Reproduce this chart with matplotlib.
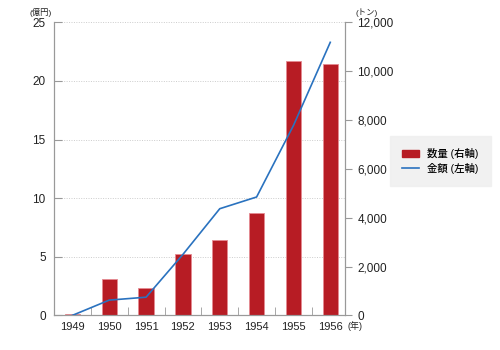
import matplotlib
matplotlib.use("Agg")
import matplotlib.pyplot as plt
from matplotlib.patches import Patch
from matplotlib.lines import Line2D

plt.rcParams['font.family'] = ['Liberation Sans', 'Noto Sans CJK JP', 'DejaVu Sans']

# データ
years = ['1949', '1950', '1951', '1952', '1953', '1954', '1955', '1956']
volume_t = [50, 1500, 1100, 2500, 3100, 4200, 10400, 10300]      # 数量 (トン, 右軸)
amount_oku = [0.0, 1.3, 1.55, 5.2, 9.1, 10.1, 16.2, 23.3]      # 金額 (億円, 左軸)

grey = '#999999'
red = '#b71c24'
blue = '#2a72bf'
txt = '#222222'

fig = plt.figure(figsize=(5, 3.5), dpi=100)
ax = fig.add_axes([0.108, 0.099, 0.582, 0.837])
ax2 = ax.twinx()

x = list(range(len(years)))

# 棒グラフ (右軸)
ax2.bar(x, volume_t, width=0.42, color=red, edgecolor='#e58a92', linewidth=0.6, zorder=2)
ax2.set_ylim(0, 12000)
ax2.set_yticks(range(0, 12001, 2000))
ax2.set_yticklabels([f'{v:,}' for v in range(0, 12001, 2000)])

# 折れ線 (左軸)
ax.plot(x, amount_oku, color=blue, linewidth=1.2, zorder=5)
ax.set_ylim(0, 25)
ax.set_yticks(range(0, 26, 5))
ax.set_xlim(-0.5, len(years) - 0.6)
ax.set_xticks(x)
ax.set_xticklabels(years)
ax.set_xticks([i + 0.5 for i in x[:-1]], minor=True)

# 線をバーの前に
ax.set_zorder(ax2.get_zorder() + 1)
ax.patch.set_visible(False)

for g in range(5, 26, 5):
    ax2.axhline(g * 12000 / 25, color='#cccccc', linestyle=(0, (1, 1.5)), linewidth=0.7, zorder=0)

for a in (ax, ax2):
    for s in a.spines.values():
        s.set_color(grey)
    a.spines['top'].set_visible(False)

ax.tick_params(axis='y', direction='in', length=6, color=grey, labelsize=8.5, pad=6, labelcolor=txt)
ax.tick_params(axis='x', which='major', length=0, labelsize=8, pad=5, labelcolor=txt)
ax.tick_params(axis='x', which='minor', direction='in', length=6, color=grey)
ax2.tick_params(axis='y', direction='out', length=5, color=grey, labelsize=8.5, pad=4, labelcolor=txt)

fig.text(0.058, 0.965, '(億円)', fontsize=6, ha='left', va='center', color=txt)
fig.text(0.71, 0.965, '(トン)', fontsize=6, ha='left', va='center', color=txt)
fig.text(0.696, 0.068, '(年)', fontsize=6.5, ha='left', va='center', color=txt)

handles = [Patch(facecolor=red, edgecolor=red),
           Line2D([0], [0], color=blue, linewidth=1.2)]
leg = fig.legend(handles, ['数量 (右軸)', '金額 (左軸)'], loc='center left',
                 bbox_to_anchor=(0.775, 0.54), prop={'size': 7.5, 'weight': 'medium'},
                 frameon=True, handlelength=1.6, handleheight=0.6, borderpad=0.9,
                 labelspacing=0.3)
leg.get_frame().set_facecolor('#eeeeee')
leg.get_frame().set_edgecolor('#eeeeee')
leg.get_frame().set_boxstyle('square')

fig.savefig('out.png', dpi=100)
